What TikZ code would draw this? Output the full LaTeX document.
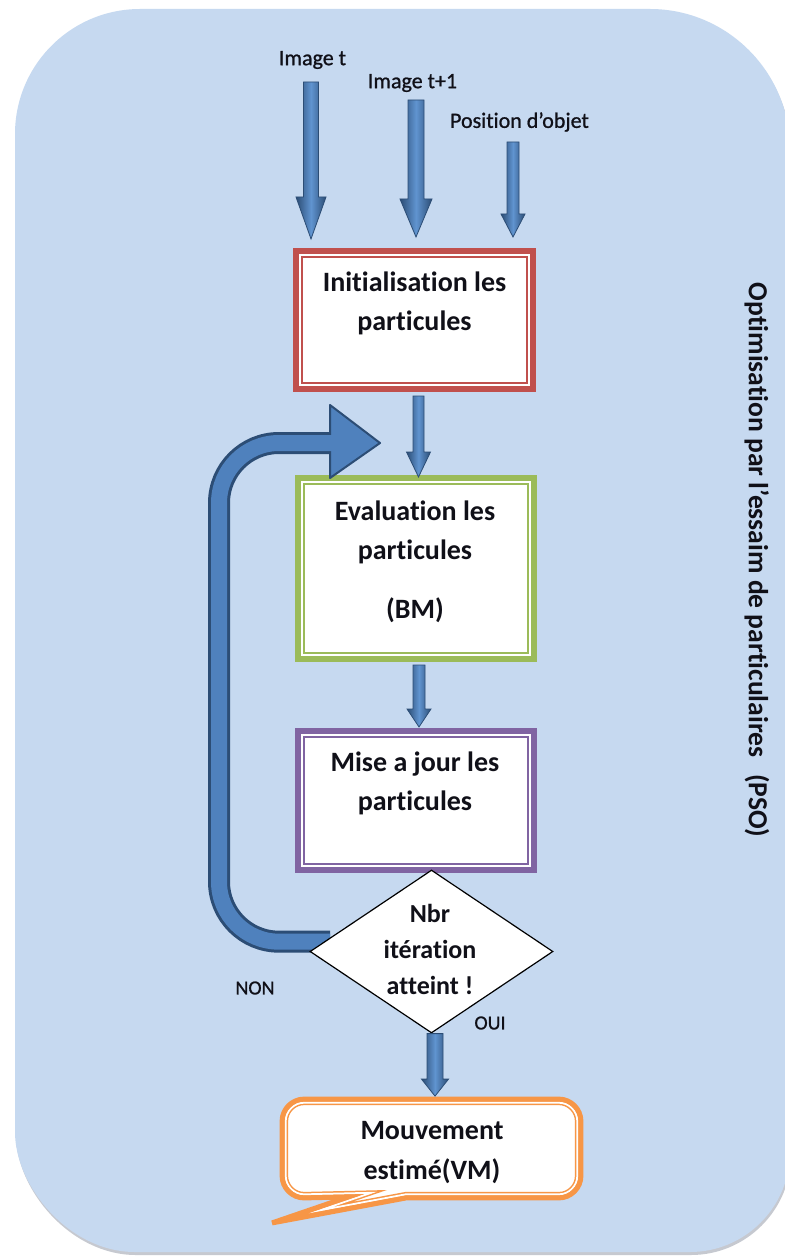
\documentclass[tikz,border=0pt]{standalone}
\usepackage{fontspec}
\setmainfont{Carlito}[Ligatures=CommonOff]
\newfontfamily\labelfont{Carlito}[Ligatures=CommonOff, FakeBold=0.9]
\usetikzlibrary{shapes.geometric,calc}

\definecolor{bgblue}{RGB}{198,217,240}
\definecolor{bgshadow}{RGB}{160,166,178}
\definecolor{flowdark}{RGB}{44,77,117}
\definecolor{flowblue}{RGB}{79,129,189}
\definecolor{flowlight}{RGB}{96,148,208}
\definecolor{boxred}{RGB}{192,80,77}
\definecolor{boxgreen}{RGB}{155,187,89}
\definecolor{boxpurple}{RGB}{128,100,162}
\definecolor{boxorange}{RGB}{247,150,70}
\definecolor{ink}{RGB}{16,16,24}

\tikzset{
  flowbox/.style={rectangle, draw=#1, line width=3pt, fill=white, inner sep=0pt,
    path picture={\draw[#1, line width=0.8pt]
      ([shift={(6,6)}]path picture bounding box.north west) rectangle
      ([shift={(-6,-6)}]path picture bounding box.south east);}},
  boxtext/.style={font=\bfseries\fontsize{14}{19.5}\selectfont, align=center, text=ink, inner sep=0pt},
  smalllabel/.style={font=\labelfont\fontsize{11}{13}\selectfont, text=ink, inner sep=0pt},
  blockshade/.style={left color=flowdark, right color=flowdark, middle color=flowlight,
    draw=flowdark, line width=0.4pt},
  bgshape/.style={insert path={(140,9) -- (650,9) .. controls (727,9) and (790,72) .. (790,149)
    -- (790,1152) .. controls (790,1207) and (745,1252) .. (690,1252)
    -- (135,1252) .. controls (69,1252) and (15,1186) .. (15,1132)
    -- (15,134) .. controls (15,65) and (71,9) .. cycle}},
  calloutshape/.style={insert path={($(cl.north west)+(22,0)$) -- ($(cl.north east)+(-22,0)$)
    .. controls ($(cl.north east)+(-10,0)$) and ($(cl.north east)+(0,10)$) .. ($(cl.north east)+(0,22)$)
    -- ($(cl.south east)+(0,-22)$)
    .. controls ($(cl.south east)+(0,-10)$) and ($(cl.south east)+(-10,0)$) .. ($(cl.south east)+(-22,0)$)
    -- ($(cl.south west)+(124,0)$) -- ($(cl.south west)+(-10,25)$) -- ($(cl.south west)+(66,-1)$)
    -- ($(cl.south west)+(22,0)$)
    .. controls ($(cl.south west)+(10,0)$) and ($(cl.south west)+(0,-10)$) .. ($(cl.south west)+(0,-22)$)
    -- ($(cl.north west)+(0,22)$)
    .. controls ($(cl.north west)+(0,10)$) and ($(cl.north west)+(10,0)$) .. cycle}},
}

% shaded block arrow pointing down: start, tip, shaft half width, head half width, head length
\newcommand\blockarrow[5]{%
  \shadedraw[blockshade] ($(#1)+(-#3,0)$) -- ($(#2)+(-#3,-#5)$) -- ($(#2)+(-#4,-#5)$) -- (#2)
    -- ($(#2)+(#4,-#5)$) -- ($(#2)+(#3,-#5)$) -- ($(#1)+(#3,0)$) -- cycle;}

\begin{document}
\begin{tikzpicture}[x=0.5pt, y=-0.5pt]
\useasboundingbox (0,0) rectangle (785,1257);
\clip (0,0) rectangle (785,1257);
\fill[white] (0,0) rectangle (785,1257);

% panel
\fill[bgshadow, opacity=0.6, shift={(1,3)}, bgshape];
\fill[bgblue, bgshape];

% title along the right side
\node[rotate=-90, font=\bfseries\fontsize{13.8}{16}\selectfont, text=ink, inner sep=0pt] (pso)
  at (757,560) {Optimisation par l’essaim de particulaires\hspace{0.6em}(PSO)};

% inputs
\node[smalllabel] (in1) at (312.5,60) {Image t};
\node[smalllabel] (in2) at (412.5,83) {Image t+1};
\node[smalllabel] (in3) at (519.5,122) {Position d’objet};

% process boxes
\node[flowbox=boxred, minimum width=118.5pt, minimum height=69pt] (b1) at (414.5,320) {};
\node[boxtext] (b1t) at (414.5,303) {Initialisation les\\particules};
\node[flowbox=boxgreen, minimum width=118pt, minimum height=90.5pt] (b2) at (416,568.5) {};
\node[boxtext] (b2t) at (415,562) {Evaluation les\\particules\\[10pt](BM)};
\node[flowbox=boxpurple, minimum width=118pt, minimum height=69.5pt] (b3) at (416,800.5) {};
\node[boxtext] (b3t) at (415,783) {Mise a jour les\\particules};

% decision geometry (drawn after the loop)
\path (431.5,951.5) node[diamond, minimum width=121.5pt, minimum height=81.5pt, inner sep=0pt] (dia) {};

% loop back (NON)
\coordinate (ltip) at (380,443);
\coordinate (lstart) at ($(dia.west)!0.12!(dia.north)+(6,0)$);
\draw[flowdark, line width=11pt, rounded corners=30pt]
  (lstart) -| ($(ltip)+(-161,0)$) -- ($(ltip)+(-47,0)$);
\filldraw[fill=flowblue, draw=flowdark, line width=1pt, line join=round]
  ($(ltip)+(-50,-38)$) -- (ltip) -- ($(ltip)+(-50,35)$) -- cycle;
\draw[flowblue, line width=8pt, rounded corners=30pt]
  (lstart) -| ($(ltip)+(-161,0)$) -- ($(ltip)+(-46,0)$);

% decision
\node[diamond, draw=black, line width=0.6pt, fill=white, minimum width=121.5pt,
  minimum height=81.5pt, inner sep=0pt] (diab) at (dia) {};
\node[boxtext, font=\bfseries\fontsize{13}{18}\selectfont] (diat) at (430,949) {Nbr\\itération\\atteint !};
\node[smalllabel, font=\labelfont\fontsize{10}{12}\selectfont] (non) at (255,988) {NON};
\node[smalllabel, font=\labelfont\fontsize{10}{12}\selectfont] (oui) at (490,1023) {OUI};

% result callout
\node[minimum width=149pt, minimum height=49pt, inner sep=0pt] (cl) at (431.5,1148.5) {};
\fill[white, calloutshape];
\begin{scope}
  \path[clip, calloutshape];
  \draw[boxorange, line width=6pt, calloutshape];
  \draw[white, line width=4.5pt, calloutshape];
  \draw[boxorange, line width=2.5pt, calloutshape];
\end{scope}
\draw[boxorange, line width=2.5pt, calloutshape];
\node[boxtext, font=\bfseries\fontsize{14}{20}\selectfont] (clt) at (432,1153) {Mouvement\\estimé(VM)};

% arrows
\coordinate (a1s) at (311,82);
\coordinate (a1e) at ($(a1s |- b1.north)+(0,-9)$);
\coordinate (a2s) at (416,100);
\coordinate (a2e) at ($(a2s |- b1.north)+(0,-11)$);
\coordinate (a3s) at (513,142);
\coordinate (a3e) at ($(a3s |- b1.north)+(0,-11)$);
\coordinate (a4s) at ($(b1.south)+(4,4)$);
\coordinate (a4e) at ($(b2.north)+(2.5,2)$);
\coordinate (a5s) at ($(b2.south)+(3,3)$);
\coordinate (a5e) at ($(b3.north)+(3,-1)$);
\coordinate (a6s) at ($(diab.south)+(3.5,0)$);
\coordinate (a6e) at ($(cl.north)+(3.5,-3)$);
\blockarrow{a1s}{a1e}{7.5}{15}{42}
\blockarrow{a2s}{a2e}{8}{16}{38}
\blockarrow{a3s}{a3e}{6}{12}{23}
\blockarrow{a4s}{a4e}{5.5}{12}{25}
\blockarrow{a5s}{a5e}{6}{12}{18}
\blockarrow{a6s}{a6e}{8}{13.5}{17}
\end{tikzpicture}
\end{document}
